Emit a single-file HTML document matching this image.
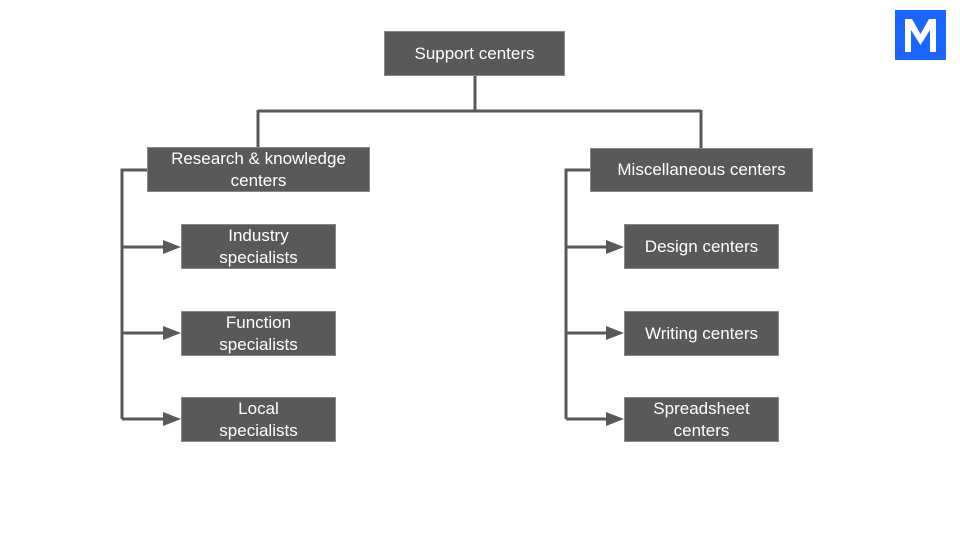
<!DOCTYPE html>
<html><head><style>
body{margin:0;width:960px;height:540px;background:#fff;position:relative;overflow:hidden;font-family:"Liberation Sans",Roboto,sans-serif}
.b{position:absolute;background:#595959;color:#fff;font-size:17px;line-height:22px;display:flex;align-items:center;justify-content:center;text-align:center;border:1px solid #888;box-sizing:border-box}
</style></head><body>
<svg width="960" height="540" style="position:absolute;left:0;top:0">
<g stroke="#595959" stroke-width="3" fill="none">
<path d="M475,76V111M258,111H701M258,110V148M701,110V148"/>
<path d="M148,170H122V419"/>
<path d="M122,247H165M122,333H165M122,419H165"/>
<path d="M591,170H566V419"/>
<path d="M566,247H608M566,333H608M566,419H608"/>
</g>
<g fill="#595959">
<path d="M163,240L181,247L163,254Z"/><path d="M163,326L181,333L163,340Z"/><path d="M163,412L181,419L163,426Z"/>
<path d="M606,240L624,247L606,254Z"/><path d="M606,326L624,333L606,340Z"/><path d="M606,412L624,419L606,426Z"/>
</g>
<rect x="895" y="10" width="51" height="50" fill="#1a66ff"/>
<path d="M905,52V19H912L920.5,34L929,19H936V52H930V30L920.5,45L911,30V52Z" fill="#fff"/>
</svg>
<div class="b" style="left:384px;top:31px;width:181px;height:45px">Support centers</div>
<div class="b" style="left:147px;top:147px;width:223px;height:45px">Research &amp; knowledge<br>centers</div>
<div class="b" style="left:590px;top:148px;width:223px;height:44px">Miscellaneous centers</div>
<div class="b" style="left:181px;top:224px;width:155px;height:45px">Industry<br>specialists</div>
<div class="b" style="left:181px;top:311px;width:155px;height:45px">Function<br>specialists</div>
<div class="b" style="left:181px;top:397px;width:155px;height:45px">Local<br>specialists</div>
<div class="b" style="left:624px;top:224px;width:155px;height:45px">Design centers</div>
<div class="b" style="left:624px;top:311px;width:155px;height:45px">Writing centers</div>
<div class="b" style="left:624px;top:397px;width:155px;height:45px">Spreadsheet<br>centers</div>
</body></html>
